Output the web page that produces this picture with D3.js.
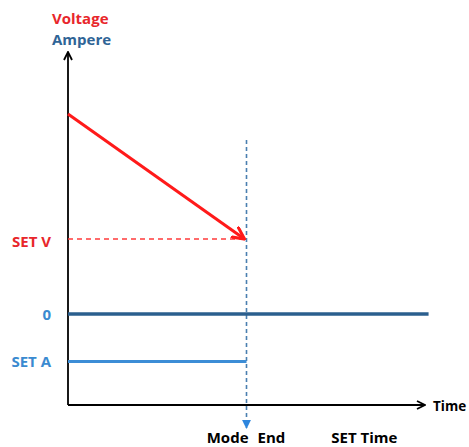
<!DOCTYPE html>
<html><head><meta charset="utf-8">
<script src="https://cdn.jsdelivr.net/npm/d3@7"></script>
<style>body{margin:0;background:#fff}svg text{font-family:"Open Sans",Lato,sans-serif;font-weight:bold;font-size:15px}</style>
</head><body><svg id="c" width="469" height="447"></svg>
<script>
// data
const timeDomain = [0, 10];
const modeEndTime = 5.0;
const zeroLineEnd = 10.1;
const setTimeLabelAt = 8.3;
const voltageStart = 8.0;
const setV = 3.0;
const setA = -1.9;
const valueDomain = [-3.64, 10.48];
const yLabels = ["SET V", "0", "SET A"];
const yLabelValues = [setV, 0, setA];
const xLabels = ["Mode", "End", "SET Time"];

const svg = d3.select("#c");
const x = d3.scaleLinear().domain(timeDomain).range([68, 425]);
const y = d3.scaleLinear().domain(valueDomain).range([405, 52]);

const defs = svg.append("defs");
defs.append("marker").attr("id","chev").attr("viewBox","0 0 10 10").attr("refX",9).attr("refY",5)
  .attr("markerWidth",10).attr("markerHeight",10).attr("markerUnits","userSpaceOnUse").attr("orient","auto")
  .append("path").attr("d","M1,1 L9,5 L1,9").attr("fill","none").attr("stroke","#000").attr("stroke-width",1.8);
defs.append("marker").attr("id","redArr").attr("viewBox","0 0 10 10").attr("refX",9).attr("refY",5)
  .attr("markerWidth",14).attr("markerHeight",14).attr("markerUnits","userSpaceOnUse").attr("orient","auto")
  .append("path").attr("d","M0,0.5 L9,5 L0,9.5").attr("fill","none").attr("stroke","#ff1a1a").attr("stroke-width",2.2);
defs.append("marker").attr("id","blueTri").attr("viewBox","0 0 10 10").attr("refX",9).attr("refY",5)
  .attr("markerWidth",9).attr("markerHeight",9).attr("markerUnits","userSpaceOnUse").attr("orient","auto")
  .append("path").attr("d","M0,0 L10,5 L0,10 Z").attr("fill","#2e86de");

// axes
svg.append("line").attr("x1",x(0)).attr("y1",y(valueDomain[0])).attr("x2",x(0)).attr("y2",y(valueDomain[1]))
  .attr("stroke","#000").attr("stroke-width",1.8).attr("marker-end","url(#chev)");
svg.append("line").attr("x1",x(0)).attr("y1",y(valueDomain[0])).attr("x2",x(timeDomain[1])).attr("y2",y(valueDomain[0]))
  .attr("stroke","#000").attr("stroke-width",1.8).attr("marker-end","url(#chev)");

// set V dashed
svg.append("line").attr("x1",x(0)).attr("x2",x(modeEndTime)).attr("y1",y(setV)).attr("y2",y(setV))
  .attr("stroke","#ff3b3b").attr("stroke-width",1.5).attr("stroke-dasharray","5,4");

// vertical dashed mode end
svg.append("line").attr("x1",x(modeEndTime)).attr("x2",x(modeEndTime)).attr("y1",140).attr("y2",428)
  .attr("stroke","#4a7fb0").attr("stroke-width",1.6).attr("stroke-dasharray","4,3").attr("marker-end","url(#blueTri)");

// zero line
svg.append("line").attr("x1",x(0)).attr("x2",x(zeroLineEnd)).attr("y1",y(0)).attr("y2",y(0))
  .attr("stroke","#2b5f8e").attr("stroke-width",3.5);
// set A line
svg.append("line").attr("x1",x(0)).attr("x2",x(modeEndTime)).attr("y1",y(setA)).attr("y2",y(setA))
  .attr("stroke","#3c8dd6").attr("stroke-width",3);

// voltage line
svg.append("line").attr("x1",x(0)).attr("y1",y(voltageStart)).attr("x2",x(modeEndTime)-2).attr("y2",y(setV))
  .attr("stroke","#ff1a1a").attr("stroke-width",3).attr("marker-end","url(#redArr)");

// texts
svg.append("text").attr("x",52).attr("y",24).attr("fill","#e8262b").text("Voltage");
svg.append("text").attr("x",52).attr("y",45).attr("fill","#2f6496").text("Ampere");
const yColors = ["#e8262b", "#3a8ad0", "#3a8ad0"];
const yOffsets = [8, 6, 5];
yLabels.forEach((t,i)=>{
  svg.append("text").attr("x",51).attr("y",y(yLabelValues[i])+yOffsets[i]).attr("text-anchor","end").attr("fill",yColors[i]).text(t);
});
svg.append("text").attr("x",433).attr("y",411).attr("fill","#000").style("font-size","13.5px").text("Time");
svg.append("text").attr("x",x(modeEndTime)+2).attr("y",443).attr("text-anchor","end").attr("fill","#000").text(xLabels[0]);
svg.append("text").attr("x",x(modeEndTime)+11).attr("y",443).attr("fill","#000").text(xLabels[1]);
svg.append("text").attr("x",x(setTimeLabelAt)).attr("y",443).attr("text-anchor","middle").attr("fill","#000").text(xLabels[2]);
</script></body></html>
